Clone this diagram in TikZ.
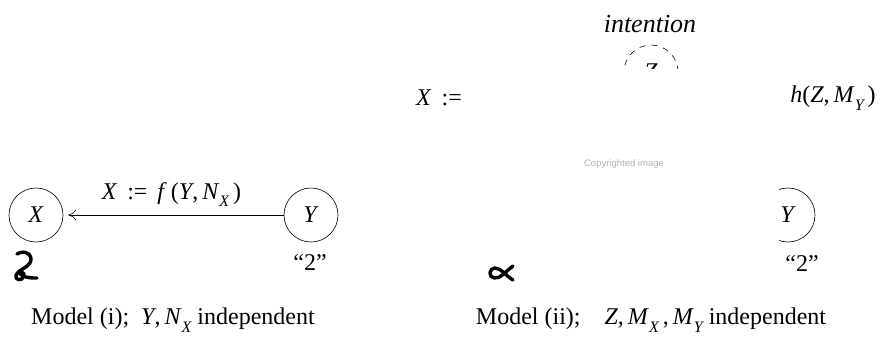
\documentclass[tikz,border=0pt]{standalone}
\usepackage{fontspec}
\setmainfont{Liberation Serif}
\newfontfamily\cpfont{Liberation Sans}
\usetikzlibrary{arrows.meta}
\newcommand\subx[1]{\raisebox{-0.32em}{\fontsize{16}{16}\selectfont\itshape #1}}
\begin{document}
\begin{tikzpicture}[x=1pt,y=-1pt,
  every node/.style={font=\fontsize{24}{28}\selectfont, inner sep=0pt},
  var/.style={circle, draw, line width=0.6pt, minimum size=54pt},
  hand/.style={line width=3.4pt, line cap=round, line join=round},
  arr/.style={-{To[length=8pt,width=11pt]}, line width=0.6pt, shorten >=5pt}]
\useasboundingbox (0,0) rectangle (884,341);
% Model (i)
\node[var] (X) at (36,215) {\textit{X}};
\node[var] (Y) at (311,215) {\textit{Y}};
\draw[arr] (Y) -- node[midway, anchor=south, yshift=8pt, xshift=-2pt] (f) {\textit{X}\,\ :=\ \,\textit{f}\,(\textit{Y},\,\textit{N}\subx{X}\,)} (X);
\draw[hand] (17,254) .. controls (25,249) and (34,255) .. (30,263) .. controls (27,268) and (18,270) .. (16,275) .. controls (14,280) and (22,282) .. (24,276) .. controls (25,273) and (21,271) .. (20,274) .. controls (24,278) and (31,278) .. (37,278);
\node (q1) at (310,263) {“2”};
\node (c1) at (173,320) {Model (i);\ \ \textit{Y},\,\textit{N}\subx{X}\ independent};
% Model (ii)
\node[font=\fontsize{26}{30}\selectfont] (int) at (650,24) {\textit{intention}};
\begin{scope}
  \clip (600,30) rectangle (700,68);
  \node[var, dashed, dash pattern=on 6pt off 6pt] (Z) at (651,72) {\textit{Z}};
\end{scope}
\node (xeq) at (439,98) {\textit{X}\,\ :=};
\node (heq) at (833,98) {\textit{h}(\textit{Z},\,\textit{M}\subx{Y}\,)};
\node[font=\fontsize{9.5}{11}\selectfont\cpfont, text=black!30] (cp) at (624,164) {Copyrighted image};
\begin{scope}
  \clip (779,170) rectangle (830,260);
  \node[var] (Y2) at (788,215) {\textit{Y}};
\end{scope}
\node (q2) at (802,264) {“2”};
\draw[hand] (513,266) .. controls (505,272) and (500,279) .. (494,278) .. controls (488,277) and (489,268) .. (495,268) .. controls (501,268) and (506,276) .. (513,280);
\node (c2) at (651,320) {Model (ii);\quad \textit{Z},\,\textit{M}\subx{X}\,,\,\textit{M}\subx{Y}\ independent};
\end{tikzpicture}
\end{document}
